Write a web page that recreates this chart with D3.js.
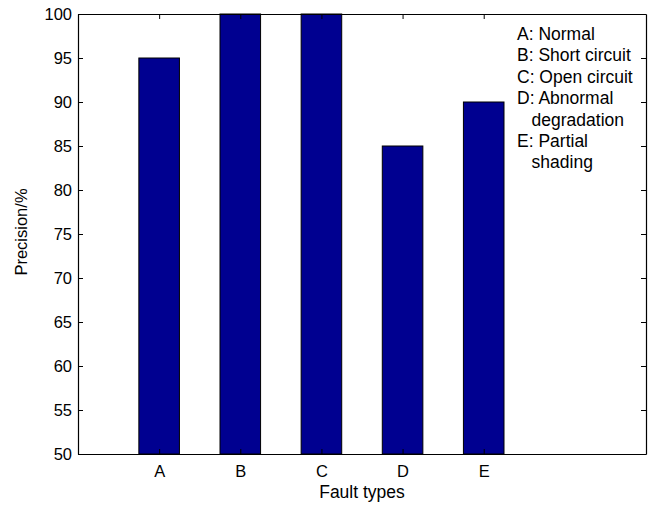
<!DOCTYPE html>
<html>
<head>
<meta charset="utf-8">
<script src="https://cdn.jsdelivr.net/npm/d3@7"></script>
<style>
  html, body { margin: 0; padding: 0; background: #fff; }
  svg { display: block; font-family: Arial, "Liberation Sans", sans-serif; }
</style>
</head>
<body>
<svg id="chart" width="656" height="506"></svg>
<script>
// Fault categories and their precision values (%)
const categories = ["A", "B", "C", "D", "E"];
const precision = [95, 100, 100, 85, 90];
const yTicks = [50, 55, 60, 65, 70, 75, 80, 85, 90, 95, 100];
const legendLines = [
  "A: Normal",
  "B: Short circuit",
  "C: Open circuit",
  "D: Abnormal",
  "   degradation",
  "E: Partial",
  "   shading"
];

const svg = d3.select("#chart");
const m = { left: 78, top: 14, right: 646, bottom: 454 };

// Categories sit at positions 1..5 on a 0..7 axis
const x = d3.scaleLinear().domain([0, 7]).range([m.left, m.right]);
const y = d3.scaleLinear().domain([50, 100]).range([m.bottom, m.top]);
const barW = 0.5;

// Bars
svg.append("g").selectAll("rect")
  .data(precision)
  .join("rect")
  .attr("x", (d, i) => x(i + 1 - barW / 2))
  .attr("width", (d, i) => x(i + 1 + barW / 2) - x(i + 1 - barW / 2))
  .attr("y", d => y(d))
  .attr("height", d => y(50) - y(d))
  .attr("fill", "#000090")
  .attr("stroke", "#000")
  .attr("stroke-width", 1);

// Axes with inward ticks
const tickLen = 5;
const leftAxis = d3.axisLeft(y).tickValues(yTicks).tickSizeInner(-tickLen).tickSizeOuter(0).tickPadding(6);
const gl = svg.append("g").attr("transform", `translate(${m.left},0)`).call(leftAxis);
const rightAxis = d3.axisRight(y).tickValues(yTicks).tickSizeInner(-tickLen).tickSizeOuter(0).tickFormat("");
const gr = svg.append("g").attr("transform", `translate(${m.right},0)`).call(rightAxis);

const xTicks = d3.range(1, categories.length + 1);
const bottomAxis = d3.axisBottom(x).tickValues(xTicks).tickSizeInner(-tickLen).tickSizeOuter(0)
  .tickPadding(11).tickFormat(d => categories[d - 1]);
const gb = svg.append("g").attr("transform", `translate(0,${m.bottom})`).call(bottomAxis);
const topAxis = d3.axisTop(x).tickValues(xTicks).tickSizeInner(-tickLen).tickSizeOuter(0).tickFormat("");
const gt = svg.append("g").attr("transform", `translate(0,${m.top})`).call(topAxis);

[gl, gr, gb, gt].forEach(g => {
  g.select(".domain").attr("stroke", "#000").attr("stroke-width", 1.2);
  g.selectAll(".tick line").attr("stroke", "#000");
  g.selectAll(".tick text").attr("font-size", 16.5).attr("fill", "#000")
    .attr("font-family", "Arial, 'Liberation Sans', sans-serif");
});

// Axis titles
svg.append("text")
  .attr("x", (m.left + m.right) / 2).attr("y", 497.5)
  .attr("text-anchor", "middle").attr("font-size", 17.5)
  .text("Fault types");
svg.append("text")
  .attr("transform", `translate(27,${(m.top + m.bottom) / 2 - 2}) rotate(-90)`)
  .attr("text-anchor", "middle").attr("font-size", 16.5)
  .text("Precision/%");

// Category legend text
svg.append("g").selectAll("text")
  .data(legendLines)
  .join("text")
  .attr("x", 517)
  .attr("y", (d, i) => 40 + i * 21.4)
  .attr("font-size", 17.5)
  .attr("xml:space", "preserve")
  .style("white-space", "pre")
  .text(d => d);
</script>
</body>
</html>
